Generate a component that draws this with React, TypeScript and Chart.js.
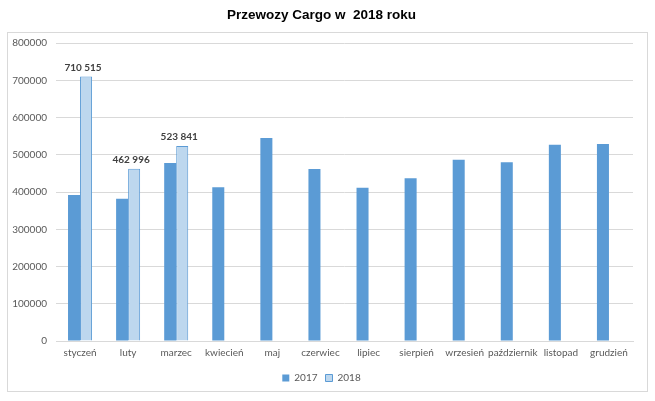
import React, { useEffect, useRef } from "react";
import { Chart, registerables } from "chart.js";

Chart.register(...registerables);

const categories = [
  "styczeń",
  "luty",
  "marzec",
  "kwiecień",
  "maj",
  "czerwiec",
  "lipiec",
  "sierpień",
  "wrzesień",
  "październik",
  "listopad",
  "grudzień",
];
const values2017 = [392000, 382000, 478000, 413000, 545000, 462000, 412000, 437000, 487000, 480000, 527000, 529000];
const values2018 = [710515, 462996, 523841, null, null, null, null, null, null, null, null, null];
const seriesNames = ["2017", "2018"];
const titleText = "Przewozy Cargo w  2018 roku";

const fmt = (v: number) => String(Math.round(v)).replace(/\B(?=(\d{3})+(?!\d))/g, " ");

const framePlugin = {
  id: "frame",
  beforeDraw(chart: any) {
    const { ctx, width, height } = chart;
    ctx.save();
    ctx.fillStyle = "#ffffff";
    ctx.fillRect(0, 0, width, height);
    ctx.strokeStyle = "#d9d9d9";
    ctx.lineWidth = 1;
    ctx.strokeRect(7.5, 32.5, width - 15, height - 42);
    ctx.restore();
  },
};

const labelPlugin = {
  id: "valueLabels",
  afterDatasetsDraw(chart: any) {
    const { ctx } = chart;
    const meta = chart.getDatasetMeta(1);
    ctx.save();
    ctx.font = "bold 10px Lato";
    ctx.fillStyle = "#404040";
    ctx.textAlign = "center";
    ctx.textBaseline = "bottom";
    meta.data.forEach((el: any, i: number) => {
      const v = values2018[i];
      if (v == null) return;
      ctx.fillText(fmt(v), el.x - 3, el.y - 4);
    });
    ctx.restore();
  },
};

export default function App() {
  const ref = useRef<HTMLCanvasElement>(null);
  useEffect(() => {
    if (!ref.current) return;
    const chart = new Chart(ref.current, {
      type: "bar",
      data: {
        labels: categories,
        datasets: [
          {
            label: seriesNames[0],
            data: values2017,
            backgroundColor: "#5B9BD5",
            borderColor: "#5B9BD5",
            borderWidth: 0,
            categoryPercentage: 0.5,
            barPercentage: 1,
          },
          {
            label: seriesNames[1],
            data: values2018,
            backgroundColor: "#BDD7EE",
            borderColor: "#5B9BD5",
            borderWidth: 1,
            categoryPercentage: 0.5,
            barPercentage: 1,
          },
        ],
      },
      options: {
        animation: false,
        responsive: true,
        maintainAspectRatio: false,
        layout: { padding: { left: 10, right: 22, top: 0, bottom: 8 } },
        plugins: {
          title: {
            display: true,
            text: titleText,
            color: "#000000",
            font: { family: "Liberation Sans", size: 13.5, weight: "bold" },
            padding: { top: 7, bottom: 20 },
          },
          legend: {
            position: "bottom",
            labels: {
              boxWidth: 7,
              boxHeight: 7,
              padding: 8,
              color: "#595959",
              font: { family: "Lato", size: 10 },
            },
          },
          tooltip: { enabled: false },
        },
        scales: {
          x: {
            grid: { display: false, drawTicks: false },
            border: { display: true, color: "#d9d9d9" },
            ticks: { color: "#595959", font: { family: "Lato", size: 10 }, padding: 6, maxRotation: 0, autoSkip: false },
          },
          y: {
            min: 0,
            max: 800000,
            grid: { color: "#d9d9d9", drawTicks: false },
            border: { display: false },
            afterFit: (s: any) => {
              s.width = 46;
            },
            ticks: {
              stepSize: 100000,
              color: "#595959",
              font: { family: "Lato", size: 10 },
              padding: 9,
              callback: (v: any) => String(v),
            },
          },
        },
      },
      plugins: [framePlugin, labelPlugin],
    });
    return () => chart.destroy();
  }, []);
  return (
    <div style={{ position: "absolute", left: 0, top: 0, width: 655, height: 401, background: "#fff" }}>
      <canvas ref={ref} />
    </div>
  );
}
